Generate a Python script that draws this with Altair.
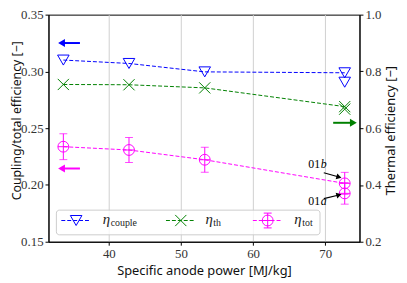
import altair as alt
import pandas as pd

# ---- data ----
power = [33.7, 42.8, 53.3, 72.7]          # Specific anode power [MJ/kg]
eta_couple = [0.310, 0.307, 0.2996, 0.2988]
eta_th = [0.754, 0.753, 0.742, 0.676]
eta_tot = [0.2337, 0.2308, 0.2222, 0.2014]
eta_tot_err = [0.0114, 0.0110, 0.0110, 0.0097]

# second operating point at the highest power (01a)
power_01a = [72.7]
eta_couple_01a = [0.2905]
eta_th_01a = [0.667]
eta_tot_01a = [0.1926]
eta_tot_err_01a = [0.0095]

legend_labels = ["couple", "th", "tot"]

BLUE, GREEN, MAGENTA = "#0000ff", "#008000", "#ff00ff"
SERIF = "Liberation Serif"
SANS = "Noto Sans"

line_df = pd.DataFrame({"p": power, "couple": eta_couple, "th": eta_th,
                        "tot": eta_tot, "err": eta_tot_err})
pts_df = pd.DataFrame({"p": power + power_01a,
                       "couple": eta_couple + eta_couple_01a,
                       "th": eta_th + eta_th_01a,
                       "tot": eta_tot + eta_tot_01a,
                       "err": eta_tot_err + eta_tot_err_01a})
pts_df["lo"] = pts_df["tot"] - pts_df["err"]
pts_df["hi"] = pts_df["tot"] + pts_df["err"]

xs = alt.Scale(domain=[31.64, 74.75], nice=False, zero=False)
xax = alt.Axis(values=[40, 50, 60, 70], title="Specific anode power [MJ/kg]",
               titleY=29, titleBaseline="middle")
yls = alt.Scale(domain=[0.15, 0.35], nice=False, zero=False)
ylax = alt.Axis(values=[0.15, 0.20, 0.25, 0.30, 0.35], format=".2f",
                title="Coupling/total efficiency [−]", titleX=-32.5, titleY=107,
                titleAngle=270, titleBaseline="middle", titleAlign="center",
                titleFontSize=12.5)
yrs = alt.Scale(domain=[0.2, 1.0], nice=False, zero=False)
yrax = alt.Axis(values=[0.2, 0.4, 0.6, 0.8, 1.0], format=".1f", orient="right",
                title="Thermal efficiency [−]", titleX=31, titleY=117,
                titleAngle=270, titleBaseline="middle", titleAlign="center", grid=False)

X = alt.X("p:Q", scale=xs, axis=xax)
dash = [4, 2]

CIRC = "M-1,0A1,1,0,1,1,1,0A1,1,0,1,1,-1,0ZM-1,0L1,0"
XSHAPE = "M-1,-1L1,1M-1,1L1,-1"

# ---- left-axis layers ----
couple_line = alt.Chart(line_df).mark_line(color=BLUE, strokeDash=dash, strokeWidth=1).encode(
    x=X, y=alt.Y("couple:Q", scale=yls, axis=ylax))
couple_pts = alt.Chart(pts_df).mark_point(shape="triangle-down", size=137, color=BLUE,
                                          filled=False, strokeWidth=1, opacity=1).encode(
    x="p:Q", y="couple:Q")
tot_line = alt.Chart(line_df).mark_line(color=MAGENTA, strokeDash=dash, strokeWidth=1).encode(
    x="p:Q", y="tot:Q")
tot_err = alt.Chart(pts_df).mark_rule(color=MAGENTA, strokeWidth=1).encode(
    x="p:Q", y="lo:Q", y2="hi:Q")
tot_cap_lo = alt.Chart(pts_df).mark_tick(color=MAGENTA, orient="horizontal", size=8,
                                         thickness=1).encode(x="p:Q", y="lo:Q")
tot_cap_hi = alt.Chart(pts_df).mark_tick(color=MAGENTA, orient="horizontal", size=8,
                                         thickness=1).encode(x="p:Q", y="hi:Q")
tot_pts = alt.Chart(pts_df).mark_point(shape=CIRC, size=121, color=MAGENTA,
                                       filled=False, strokeWidth=1, opacity=1).encode(
    x="p:Q", y="tot:Q")

# direction arrows (left axis)
arr_df = pd.DataFrame({"x0": [33.45, 33.45], "x1": [36.0, 36.0], "y": [0.325, 0.2145],
                       "c": [BLUE, MAGENTA]})
arr_shaft = alt.Chart(arr_df).mark_rule(strokeWidth=2).encode(
    x="x0:Q", x2="x1:Q", y="y:Q", color=alt.Color("c:N", scale=None))
arr_head = alt.Chart(arr_df).mark_point(shape="triangle-left", size=64, filled=True,
                                        opacity=1).encode(
    x="x0:Q", y="y:Q", color=alt.Color("c:N", scale=None), fill=alt.Color("c:N", scale=None))

# annotation arrows 01b / 01a
ann_df = pd.DataFrame({"x0": [69.8, 69.8], "y0": [0.2108, 0.1880],
                       "x1": [71.9, 71.9], "y1": [0.2070, 0.1912],
                       "ang": [16, 344]})
ann_shaft = alt.Chart(ann_df).mark_rule(color="black", strokeWidth=1.2).encode(
    x="x0:Q", y="y0:Q", x2="x1:Q", y2="y1:Q")
ann_head = alt.Chart(ann_df).mark_point(shape="triangle-right", size=36, filled=True,
                                        color="black", opacity=1).encode(
    x="x1:Q", y="y1:Q", angle=alt.Angle("ang:Q", scale=None))
lab_df = pd.DataFrame({"x": [69.3, 69.3], "y": [0.2185, 0.1854],
                       "num": ["01", "01"], "let": ["b", "a"]})
lab_num = alt.Chart(lab_df).mark_text(font=SERIF, fontSize=12, align="right",
                                      baseline="middle", color="black").encode(
    x="x:Q", y="y:Q", text="num:N")
lab_let = alt.Chart(lab_df).mark_text(font=SERIF, fontSize=12, fontStyle="italic",
                                      align="left", baseline="middle", color="black",
                                      dx=0.5).encode(
    x="x:Q", y="y:Q", text="let:N")

# ---- manual legend (pixel positions inside the plot) ----
one = pd.DataFrame({"d": [0]})
LY = 208.5
leg_box = alt.Chart(one).mark_rect(fill="white", fillOpacity=0.8, stroke="#cccccc",
                                   strokeWidth=1, cornerRadius=3).encode(
    x=alt.value(8), x2=alt.value(275), y=alt.value(198), y2=alt.value(223))
leg = [leg_box]
leg_items = [(13, BLUE, "triangle-down", 137, 55, legend_labels[0]),
             (119, GREEN, XSHAPE, 128, 159, legend_labels[1]),
             (207, MAGENTA, CIRC, 121, 249, legend_labels[2])]
for x0, col, shp, sz, tx, sub in leg_items:
    leg.append(alt.Chart(one).mark_rule(color=col, strokeDash=dash, strokeWidth=1).encode(
        x=alt.value(x0), x2=alt.value(x0 + 30), y=alt.value(LY)))
    leg.append(alt.Chart(one).mark_point(shape=shp, size=sz, color=col, filled=False,
                                         strokeWidth=1, opacity=1).encode(
        x=alt.value(x0 + 15), y=alt.value(LY)))
    if col == MAGENTA:
        leg.append(alt.Chart(one).mark_rule(color=col, strokeWidth=1).encode(
            x=alt.value(x0 + 15), y=alt.value(LY - 7.5), y2=alt.value(LY + 7.5)))
        for yy in (LY - 7.5, LY + 7.5):
            leg.append(alt.Chart(one).mark_rule(color=col, strokeWidth=1).encode(
                x=alt.value(x0 + 11), x2=alt.value(x0 + 19), y=alt.value(yy)))
    leg.append(alt.Chart(one).mark_text(text="η", font=SERIF, fontSize=15,
                                        fontStyle="italic", align="left",
                                        baseline="middle", color="#222").encode(
        x=alt.value(tx), y=alt.value(LY - 1)))
    leg.append(alt.Chart(one).mark_text(text=sub, font=SERIF, fontSize=10, align="left",
                                        baseline="middle", color="#222").encode(
        x=alt.value(tx + 8), y=alt.value(LY + 3)))

left = alt.layer(couple_line, couple_pts, tot_line, tot_err, tot_cap_lo, tot_cap_hi,
                 tot_pts, arr_shaft, arr_head, ann_shaft, ann_head, lab_num, lab_let, *leg)

# ---- right-axis layers ----
th_line = alt.Chart(line_df).mark_line(color=GREEN, strokeDash=dash, strokeWidth=1).encode(
    x=X, y=alt.Y("th:Q", scale=yrs, axis=yrax))
th_pts = alt.Chart(pts_df).mark_point(shape=XSHAPE, size=128, color=GREEN, filled=False,
                                      strokeWidth=1, opacity=1).encode(x="p:Q", y="th:Q")
garr_df = pd.DataFrame({"x0": [71.1], "x1": [73.9], "y": [0.619]})
g_shaft = alt.Chart(garr_df).mark_rule(color=GREEN, strokeWidth=2).encode(
    x="x0:Q", x2="x1:Q", y="y:Q")
g_head = alt.Chart(garr_df).mark_point(shape="triangle-right", size=64, filled=True,
                                       color=GREEN, opacity=1).encode(x="x1:Q", y="y:Q")
right = alt.layer(th_line, th_pts, g_shaft, g_head)

chart = alt.layer(right, left).resolve_scale(y="independent").properties(
    width=315, height=230,
    autosize=alt.AutoSizeParams(type="none"),
    padding={"left": 41, "top": 5, "right": 40, "bottom": 35},
).configure_view(stroke="black", strokeWidth=1).configure_axis(
    labelFont=SERIF, labelFontSize=13, labelColor="#333", labelPadding=2,
    tickSize=3.5, tickColor="black", domainColor="black", domainWidth=1,
    titleFont=SANS, titleFontSize=13, titleFontWeight="normal", titleColor="#111",
    gridColor="#d0d0d0", gridWidth=1,
)

chart.save("out.html", embed_options={"renderer": "svg", "actions": False})
